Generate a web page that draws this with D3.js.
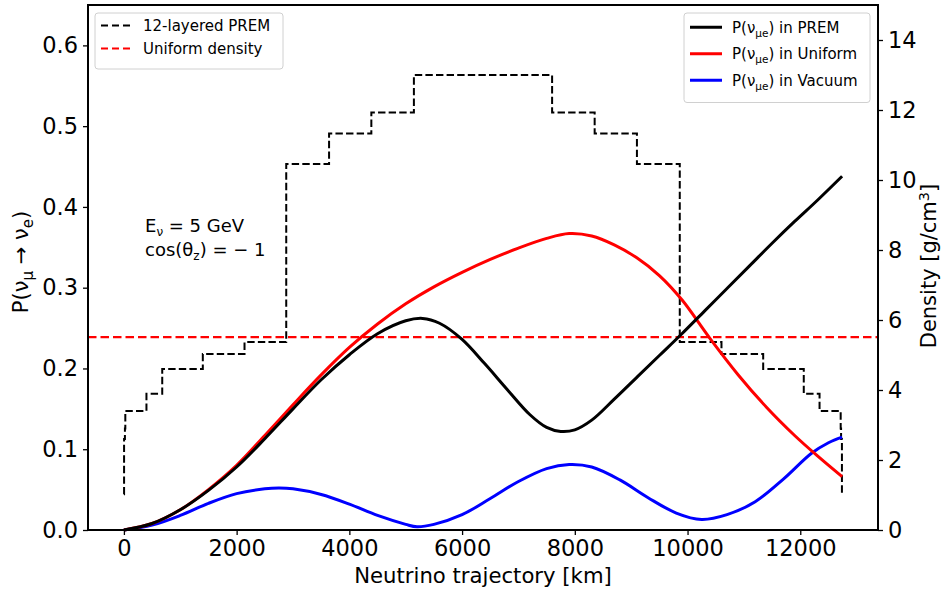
<!DOCTYPE html>
<html lang="en">
<head>
<meta charset="utf-8">
<title>Oscillation probability along the trajectory</title>
<script src="https://d3js.org/d3.v7.min.js"></script>
<style>
  body { margin: 0; background: #fff; }
  svg { font-family: "DejaVu Sans", sans-serif; }
</style>
</head>
<body>
<script>
// 12-layered PREM: layer start (km along path) and density [g/cm3]
var premStart = [0, 3, 18, 25, 400, 680, 1400, 2140, 2880, 3640, 4390, 5145,
                 7597, 8352, 9102, 9862, 10602, 11342, 12062, 12342, 12717, 12724, 12739, 12742];
var premDensity = [1.02, 2.6, 2.9, 3.40, 3.89, 4.60, 5.03, 5.37, 10.46, 11.33, 11.93, 13.0,
                   11.93, 11.33, 10.46, 5.37, 5.03, 4.60, 3.89, 3.40, 2.9, 2.6, 1.02, 1.02];
var uniformDensity = 5.51;

// probabilities
var premKm = [0, 500, 1000, 1500, 2000, 2500, 3000, 3500, 4000, 4500, 5000, 5300, 5600, 6000, 6400,
              6800, 7200, 7500, 7750, 8000, 8300, 8700, 9100, 9500, 9900, 10300, 10700, 11100,
              11500, 11900, 12300, 12742];
var premP = [0, 0.008, 0.025, 0.049, 0.078, 0.113, 0.150, 0.186, 0.217, 0.243, 0.259, 0.262, 0.256,
             0.236, 0.206, 0.174, 0.143, 0.127, 0.122, 0.124, 0.136, 0.162, 0.189, 0.216, 0.243,
             0.271, 0.299, 0.327, 0.355, 0.382, 0.408, 0.438];

var unifKm = [0, 500, 1000, 1500, 2000, 2500, 3000, 3500, 4000, 4500, 5000, 5500, 6000, 6500, 7000,
              7500, 7900, 8300, 8700, 9100, 9500, 9900, 10400, 10900, 11400, 11900, 12300, 12742];
var unifP = [0, 0.008, 0.025, 0.050, 0.080, 0.117, 0.155, 0.192, 0.226, 0.255, 0.280, 0.301, 0.319,
             0.335, 0.349, 0.361, 0.367, 0.364, 0.353, 0.337, 0.315, 0.285, 0.237, 0.192, 0.152,
             0.117, 0.092, 0.066];

var vacKm = [0, 500, 1000, 1500, 2000, 2500, 2750, 3000, 3500, 4000, 4500, 5000, 5200, 5500, 6000,
             6500, 7000, 7500, 7900, 8300, 8800, 9300, 9800, 10250, 10700, 11200, 11700, 12200,
             12500, 12742];
var vacP = [0, 0.006, 0.018, 0.033, 0.045, 0.051, 0.052, 0.051, 0.044, 0.032, 0.018, 0.007, 0.004,
            0.007, 0.019, 0.039, 0.060, 0.076, 0.081, 0.078, 0.062, 0.040, 0.021, 0.013, 0.019,
            0.035, 0.063, 0.095, 0.108, 0.115];

var xTicks = [0, 2000, 4000, 6000, 8000, 10000, 12000];
var pTicks = [0.0, 0.1, 0.2, 0.3, 0.4, 0.5, 0.6];
var rhoTicks = [0, 2, 4, 6, 8, 10, 12, 14];

var width = 942, height = 590;
var margin = { left: 88, right: 878, top: 5, bottom: 530 };

var svg = d3.select("body").append("svg")
    .attr("width", width)
    .attr("height", height);

var x = d3.scaleLinear().domain([-637, 13379]).range([margin.left, margin.right]);
var yP = d3.scaleLinear().domain([0, 0.65]).range([margin.bottom, margin.top]);
var yRho = d3.scaleLinear().domain([0, 15]).range([margin.bottom, margin.top]);

var plot = svg.append("g");

// density profile (step)
var stepLine = d3.line()
    .x(function (d) { return x(d[0]); })
    .y(function (d) { return yRho(d[1]); })
    .curve(d3.curveStepAfter);

plot.append("path")
    .datum(d3.zip(premStart, premDensity))
    .attr("d", stepLine)
    .attr("fill", "none")
    .attr("stroke", "#000")
    .attr("stroke-width", 2)
    .attr("stroke-dasharray", "7.4,3.2");

plot.append("line")
    .attr("x1", margin.left).attr("x2", margin.right)
    .attr("y1", yRho(uniformDensity)).attr("y2", yRho(uniformDensity))
    .attr("stroke", "#f00")
    .attr("stroke-width", 2.2)
    .attr("stroke-dasharray", "8.5,4");

var curve = d3.line()
    .x(function (d) { return x(d[0]); })
    .y(function (d) { return yP(d[1]); })
    .curve(d3.curveCatmullRom.alpha(0.5));

var series = [
    { km: vacKm, p: vacP, color: "#0000ff" },
    { km: unifKm, p: unifP, color: "#ff0000" },
    { km: premKm, p: premP, color: "#000000" }
];

series.forEach(function (s) {
    plot.append("path")
        .datum(d3.zip(s.km, s.p))
        .attr("d", curve)
        .attr("fill", "none")
        .attr("stroke", s.color)
        .attr("stroke-width", 3)
        .attr("stroke-linejoin", "round");
});

// axes
function styleAxis(g) {
    g.selectAll("path").remove();
    g.selectAll("line").attr("stroke", "#000").attr("stroke-width", 1.3);
    g.selectAll("text").attr("fill", "#000").style("font-size", "22.5px")
        .style("font-family", "'DejaVu Sans', sans-serif");
}

svg.append("g")
    .attr("transform", "translate(0," + margin.bottom + ")")
    .call(d3.axisBottom(x).tickValues(xTicks).tickSize(5).tickPadding(5).tickFormat(d3.format("d")))
    .call(styleAxis);

svg.append("g")
    .attr("transform", "translate(" + margin.left + ",0)")
    .call(d3.axisLeft(yP).tickValues(pTicks).tickSize(5).tickPadding(5).tickFormat(d3.format(".1f")))
    .call(styleAxis);

svg.append("g")
    .attr("transform", "translate(" + margin.right + ",0)")
    .call(d3.axisRight(yRho).tickValues(rhoTicks).tickSize(5).tickPadding(5).tickFormat(d3.format("d")))
    .call(styleAxis);

// frame
svg.append("rect")
    .attr("x", margin.left).attr("y", margin.top)
    .attr("width", margin.right - margin.left).attr("height", margin.bottom - margin.top)
    .attr("fill", "none")
    .attr("stroke", "#000")
    .attr("stroke-width", 2);

// axis labels
svg.append("text")
    .attr("x", (margin.left + margin.right) / 2).attr("y", 583)
    .attr("text-anchor", "middle")
    .style("font-size", "21.2px")
    .text("Neutrino trajectory [km]");

var yl = svg.append("text")
    .attr("transform", "translate(28,262) rotate(-90)")
    .attr("text-anchor", "middle")
    .style("font-size", "21px");
yl.append("tspan").text("P(ν");
yl.append("tspan").attr("dy", 5).style("font-size", "15px").text("μ");
yl.append("tspan").attr("dy", -5).text(" → ν");
yl.append("tspan").attr("dy", 5).style("font-size", "15px").text("e");
yl.append("tspan").attr("dy", -5).text(")");

var yr = svg.append("text")
    .attr("transform", "translate(936,266) rotate(-90)")
    .attr("text-anchor", "middle")
    .style("font-size", "21px");
yr.append("tspan").text("Density [g/cm");
yr.append("tspan").attr("dy", -7).style("font-size", "14.5px").text("3");
yr.append("tspan").attr("dy", 7).text("]");

// annotation
var a1 = svg.append("text").attr("x", 145).attr("y", 232).style("font-size", "18px");
a1.append("tspan").text("E");
a1.append("tspan").attr("dy", 4).style("font-size", "12px").text("ν");
a1.append("tspan").attr("dy", -4).text(" = 5 GeV");
var a2 = svg.append("text").attr("x", 145).attr("y", 256).style("font-size", "18px");
a2.append("tspan").text("cos(θ");
a2.append("tspan").attr("dy", 4).style("font-size", "12px").text("z");
a2.append("tspan").attr("dy", -4).text(") =  − 1");

// legends
function legend(x0, y0, w, step, rows) {
    var g = svg.append("g").attr("transform", "translate(" + x0 + "," + y0 + ")");
    g.append("rect")
        .attr("width", w).attr("height", rows.length * step + 10)
        .attr("rx", 3)
        .attr("fill", "#fff").attr("fill-opacity", 0.8)
        .attr("stroke", "#d0d0d0");
    rows.forEach(function (r, i) {
        var cy = 12 + step / 2 - 11 + i * step;
        g.append("line")
            .attr("x1", 6).attr("x2", 38)
            .attr("y1", cy).attr("y2", cy)
            .attr("stroke", r.color)
            .attr("stroke-width", r.dash ? 2 : 3)
            .attr("stroke-dasharray", r.dash ? "7,4" : null);
        var t = g.append("text").attr("x", 48).attr("y", cy + 5.5).style("font-size", "15px");
        r.label(t);
    });
}

legend(95, 13, 188, 23, [
    { color: "#000", dash: true, label: function (t) { t.text("12-layered PREM"); } },
    { color: "#f00", dash: true, label: function (t) { t.text("Uniform density"); } }
]);

function pLabel(word) {
    return function (t) {
        t.append("tspan").text("P(ν");
        t.append("tspan").attr("dy", 4).style("font-size", "10.5px").text("μe");
        t.append("tspan").attr("dy", -4).text(") in " + word);
    };
}

legend(684, 13, 186, 26.5, [
    { color: "#000", label: pLabel("PREM") },
    { color: "#f00", label: pLabel("Uniform") },
    { color: "#00f", label: pLabel("Vacuum") }
]);
</script>
</body>
</html>
